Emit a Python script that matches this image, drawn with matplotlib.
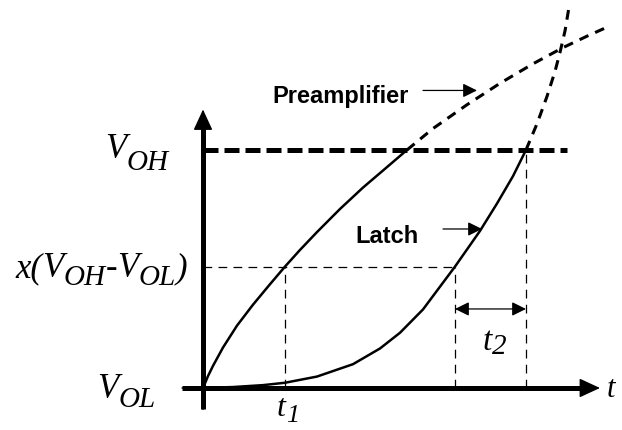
import matplotlib
matplotlib.use("Agg")
import matplotlib.pyplot as plt
from matplotlib import font_manager

# levels (V_OL = 0, V_OH = 1) and the times where the curves cross them
v_ol, v_oh = 0.0, 1.0
x_frac = 0.51
t1_end = 0.82        # preamplifier reaches x(V_OH - V_OL)
t2_start = 2.52      # latch reaches x(V_OH - V_OL)
t2_end = 3.23        # latch reaches V_OH

# preamplifier output, solid up to V_OH then dashed
pre_t = [0, 0.05, 0.10, 0.20, 0.34, 0.50, 0.67, 0.82, 0.97, 1.14, 1.37, 1.60, 1.84, 2.04]
pre_v = [0, 0.050, 0.093, 0.170, 0.262, 0.350, 0.436, 0.51, 0.580, 0.655, 0.752, 0.842, 0.928, 1.0]
pre_dash_t = [2.04, 2.30, 2.64, 2.97, 3.30, 3.60, 3.84, 4.02]
pre_dash_v = [1.0, 1.090, 1.190, 1.280, 1.362, 1.430, 1.478, 1.512]

# latch output
lat_t = [0, 0.30, 0.60, 0.82, 1.14, 1.50, 1.77, 1.97, 2.20, 2.52, 2.77, 2.94, 3.10, 3.23]
lat_v = [0, 0.004, 0.012, 0.022, 0.048, 0.100, 0.166, 0.232, 0.330, 0.51, 0.660, 0.775, 0.890, 1.0]
lat_dash_t = [3.23, 3.34, 3.44, 3.52, 3.57, 3.62, 3.66]
lat_dash_v = [1.0, 1.110, 1.225, 1.330, 1.410, 1.500, 1.600]

serif = "Liberation Serif"
names = {f.name for f in font_manager.fontManager.ttflist}
if "Liberation Sans Narrow" in names:
    bold_family, bold_size = "Liberation Sans Narrow", 21
else:
    bold_family, bold_size = "Liberation Sans", 17

fig = plt.figure(figsize=(6.22, 4.30), dpi=100)
ax = fig.add_axes([0, 0, 1, 1])
ax.set_xlim(-2.03, 4.19)
ax.set_ylim(-0.1765, 1.630)
ax.axis("off")


def axis_arrow(x0, y0, x1, y1, head_len=13, head_w=6):
    # thick shaft stopping at the head base, filled head drawn on top
    p0 = ax.transData.transform((x0, y0))
    p1 = ax.transData.transform((x1, y1))
    d = (p1 - p0) / ((p1 - p0) ** 2).sum() ** 0.5
    base = ax.transData.inverted().transform(p1 - d * head_len * 100 / 72 * 0.9)
    ax.plot([x0, base[0]], [y0, base[1]], color="k", lw=3.6, solid_capstyle="butt")
    ax.annotate("", xy=(x1, y1), xytext=(x0, y0),
                arrowprops=dict(arrowstyle="-|>,head_length=%.2f,head_width=%.2f" % (head_len / 10, head_w / 10),
                                mutation_scale=10, lw=1.0, color="k", shrinkA=0, shrinkB=0))


def small_arrow(x0, x1, y, style="-|>"):
    ax.annotate("", xy=(x1, y), xytext=(x0, y),
                arrowprops=dict(arrowstyle=style + ",head_length=0.85,head_width=0.42",
                                mutation_scale=10, lw=0.9, color="k", shrinkA=0, shrinkB=0))


def sub_label(x, y, parts, size, sub_size, drop):
    # italic serif label with subscripts placed right after the previous piece
    prev = None
    for text, is_sub in parts:
        fs = sub_size if is_sub else size
        dy = -drop if is_sub else 0
        if prev is None:
            prev = ax.text(x, y, text, fontsize=fs, family=serif, style="italic",
                           ha="left", va="baseline")
        else:
            prev = ax.annotate(text, xy=(1, y), xycoords=(prev, "data"),
                               xytext=(0, dy), textcoords="offset points",
                               fontsize=fs, family=serif, style="italic",
                               ha="left", va="baseline")


# axes
axis_arrow(-0.21, v_ol, 3.97, v_ol)
axis_arrow(0, -0.09, 0, 1.17)

# V_OH level
ax.plot([0, 3.64], [v_oh, v_oh], color="k", lw=3.6, linestyle=(0, (3.0, 1.2)), dash_capstyle="butt")

# guide lines
thin = dict(color="k", lw=0.9, linestyle=(0, (7, 5)))
ax.plot([0, t2_start], [x_frac, x_frac], **thin)
ax.plot([t1_end, t1_end], [v_ol, x_frac], **thin)
ax.plot([t2_start, t2_start], [v_ol, x_frac], **thin)
ax.plot([t2_end, t2_end], [v_ol, v_oh], **thin)

# curves
ax.plot(pre_t, pre_v, color="k", lw=1.8, solid_joinstyle="round")
ax.plot(pre_dash_t, pre_dash_v, color="k", lw=2.2, linestyle=(0, (3.2, 2.4)))
ax.plot(lat_t, lat_v, color="k", lw=1.8, solid_joinstyle="round")
ax.plot(lat_dash_t, lat_dash_v, color="k", lw=2.2, linestyle=(0, (3.2, 2.4)))

# labels with arrows
ax.text(0.69, 1.197, "Preamplifier", family=bold_family, weight="bold", fontsize=bold_size,
        ha="left", va="baseline")
small_arrow(2.20, 2.74, 1.25)
ax.text(1.52, 0.609, "Latch", family=bold_family, weight="bold", fontsize=bold_size,
        ha="left", va="baseline")
small_arrow(2.40, 2.79, 0.668)
small_arrow(t2_start, t2_end, 0.332, style="<|-|>")

# axis labels
sub_label(-0.98, 0.966, [("V", False), ("OH", True)], 25, 21, 8.5)
sub_label(-1.88, 0.466, [("x(", False), ("V", False), ("OH", True), ("-", False),
                         ("V", False), ("OL", True), (")", False)], 25, 21, 6)
sub_label(-1.06, -0.042, [("V", False), ("OL", True)], 25, 21, 6.5)
sub_label(0.74, -0.118, [("t", False), ("1", True)], 23, 19, 4)
sub_label(2.80, 0.16, [("t", False), ("2", True)], 24, 21, 3)
ax.text(4.04, -0.038, "t", fontsize=22, family=serif, style="italic", ha="left", va="baseline")

fig.savefig("out.png", dpi=100)
